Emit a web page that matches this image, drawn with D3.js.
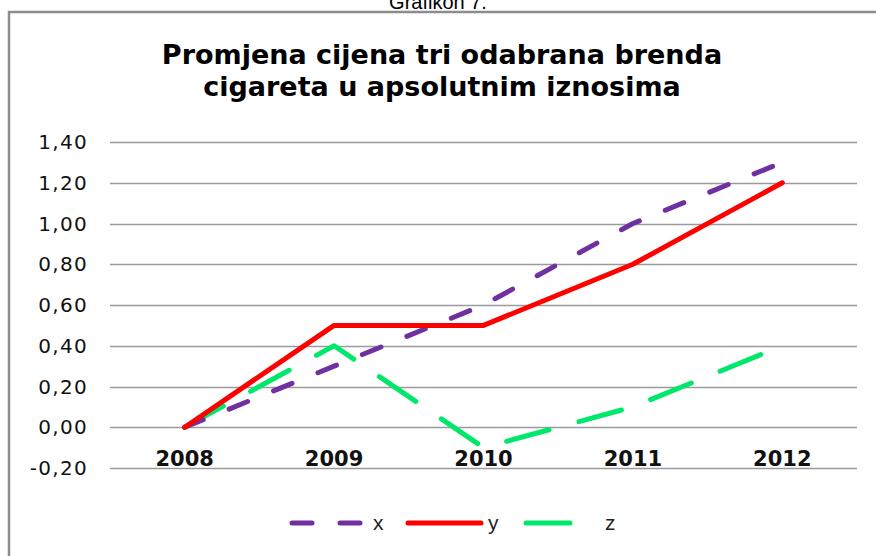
<!DOCTYPE html>
<html>
<head>
<meta charset="utf-8">
<script src="https://cdn.jsdelivr.net/npm/d3@7"></script>
<style>
  body { margin: 0; background: #fff; }
  svg { display: block; }
</style>
</head>
<body>
<div id="ChartDiv"></div>
<script>
const years = ["2008", "2009", "2010", "2011", "2012"];
const seriesX = [0, 0.3, 0.6, 1.0, 1.3];
const seriesY = [0, 0.5, 0.5, 0.8, 1.2];
const seriesZ = [0, 0.4, -0.1, 0.1, 0.4];
const yTicks = [-0.2, 0, 0.2, 0.4, 0.6, 0.8, 1.0, 1.2, 1.4];
const titleLines = ["Promjena cijena tri odabrana brenda", "cigareta u apsolutnim iznosima"];

const series = [
    {name: "x", values: seriesX, color: "#7030a0", dash: "20,28"},
    {name: "y", values: seriesY, color: "#ff0000", dash: null},
    {name: "z", values: seriesZ, color: "#00e86c", dash: "44,31"}
];

function createViz() {
    const width = 876, height = 556;
    const margin = {left: 110, right: 19, top: 142, bottom: 88};

    const svgEl = d3.select("#ChartDiv").append("svg")
        .attr("width", width)
        .attr("height", height);

    // caption above the frame, partly cut off like the source
    svgEl.append("text")
        .attr("x", 438).attr("y", 9)
        .attr("text-anchor", "middle")
        .attr("font-family", "Liberation Sans, Arial, sans-serif")
        .attr("font-size", 20)
        .text("Grafikon 7.");

    // frame (open on the right and bottom)
    svgEl.append("path")
        .attr("d", "M9,556 L9,12 L876,12")
        .attr("fill", "none")
        .attr("stroke", "#8c8c8c")
        .attr("stroke-width", 2.5);

    const title = svgEl.append("text")
        .attr("text-anchor", "middle")
        .attr("font-family", "DejaVu Sans, Verdana, sans-serif")
        .attr("font-weight", "bold")
        .attr("font-size", 27);
    titleLines.forEach((t, i) => {
        title.append("tspan")
            .attr("x", 442)
            .attr("y", 64 + i * 32)
            .text(t);
    });

    const x = d3.scaleBand()
        .domain(years)
        .range([margin.left, width - margin.right]);

    const y = d3.scaleLinear()
        .domain([-0.2, 1.4])
        .range([468, margin.top]);

    // gridlines
    svgEl.append("g")
        .selectAll("line")
        .data(yTicks)
        .join("line")
        .attr("x1", margin.left)
        .attr("x2", width - margin.right)
        .attr("y1", d => Math.round(y(d)) + 0.5)
        .attr("y2", d => Math.round(y(d)) + 0.5)
        .attr("stroke", "#9a9a9a")
        .attr("stroke-width", 1.5);

    const fmt = d => d3.format(".2f")(d).replace(".", ",").replace("−", "-");

    svgEl.append("g")
        .selectAll("text")
        .data(yTicks)
        .join("text")
        .attr("x", 88)
        .attr("y", d => y(d) + 7)
        .attr("text-anchor", "end")
        .attr("font-family", "DejaVu Sans, Verdana, sans-serif")
        .attr("font-size", 20)
        .attr("letter-spacing", 1.3)
        .attr("fill", "#111")
        .text(fmt);

    svgEl.append("g")
        .selectAll("text")
        .data(years)
        .join("text")
        .attr("x", d => x(d) + x.bandwidth() / 2)
        .attr("y", 466)
        .attr("text-anchor", "middle")
        .attr("font-family", "DejaVu Sans, Verdana, sans-serif")
        .attr("font-weight", "bold")
        .attr("font-size", 21)
        .attr("fill", "#111")
        .text(d => d);

    const line = d3.line()
        .x((d, i) => x(years[i]) + x.bandwidth() / 2)
        .y(d => y(d));

    // z first, then x, then y on top
    [series[2], series[0], series[1]].forEach(s => {
        svgEl.append("path")
            .datum(s.values)
            .attr("d", line)
            .attr("fill", "none")
            .attr("stroke", s.color)
            .attr("stroke-width", 5)
            .attr("stroke-linecap", "round")
            .attr("stroke-linejoin", "round")
            .attr("stroke-dasharray", s.dash);
    });

    // legend
    const legendItems = [
        {s: series[0], x1: 292, x2: 360, tx: 373},
        {s: series[1], x1: 408, x2: 481, tx: 488},
        {s: series[2], x1: 526, x2: 572, tx: 605}
    ];
    const lg = svgEl.append("g");
    legendItems.forEach(it => {
        lg.append("line")
            .attr("x1", it.x1).attr("x2", it.x2)
            .attr("y1", 523).attr("y2", 523)
            .attr("stroke", it.s.color)
            .attr("stroke-width", 5)
            .attr("stroke-linecap", "round")
            .attr("stroke-dasharray", it.s.dash);
        lg.append("text")
            .attr("x", it.tx).attr("y", 530)
            .attr("font-family", "Liberation Sans Narrow, Liberation Sans, Arial, sans-serif")
            .attr("font-size", 21)
            .attr("fill", "#222")
            .text(it.s.name);
    });
}

createViz();
</script>
</body>
</html>
